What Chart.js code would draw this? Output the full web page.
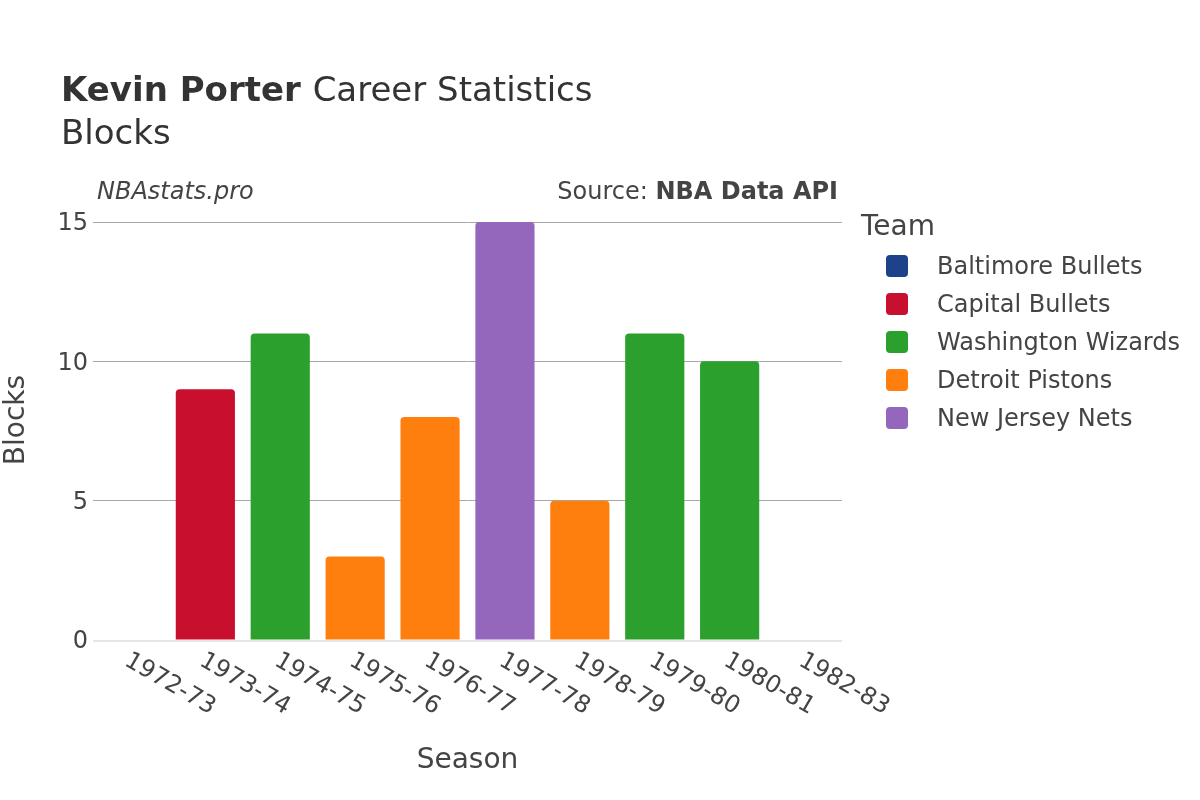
<!DOCTYPE html>
<html>
<head>
<meta charset="utf-8">
<script src="https://cdn.jsdelivr.net/npm/chart.js@4"></script>
<style>
  html, body { margin: 0; padding: 0; background: #fff; }
  #wrap { width: 1200px; height: 800px; }
</style>
</head>
<body>
<div id="wrap"><canvas id="blocksChart" width="1200" height="800"></canvas></div>
<script>
// --- Data ---
const seasons = ['1972-73', '1973-74', '1974-75', '1975-76', '1976-77', '1977-78', '1978-79', '1979-80', '1980-81', '1982-83'];
const seasonTeams = ['Baltimore Bullets', 'Capital Bullets', 'Washington Wizards', 'Detroit Pistons', 'Detroit Pistons',
    'New Jersey Nets', 'Detroit Pistons', 'Washington Wizards', 'Washington Wizards', 'Washington Wizards'];
const blocks = [0, 9, 11, 3, 8, 15, 5, 11, 10, 0];
const teams = ['Baltimore Bullets', 'Capital Bullets', 'Washington Wizards', 'Detroit Pistons', 'New Jersey Nets'];
const teamColors = ['#1d428a', '#c8102e', '#2ca02c', '#ff7f0e', '#9467bd'];
const yTicks = [0, 5, 10, 15];

const FONT = "'DejaVu Sans', sans-serif";
const textDark = '#333333';
const textMid = '#444444';

// one dataset per team, stacked so every bar stays centred on its season
const datasets = teams.map((team, t) => ({
    label: team,
    data: blocks.map((v, i) => seasonTeams[i] === team ? v : null),
    backgroundColor: teamColors[t],
    borderRadius: 4,
    borderSkipped: 'bottom',
    barPercentage: 0.79,
    categoryPercentage: 1.0
}));

// --- Custom drawing: titles, ticks, legend ---
const decorations = {
    id: 'decorations',
    beforeDatasetsDraw(chart) {
        const { ctx, chartArea } = chart;
        const y = chart.scales.y;
        // zero line
        ctx.save();
        ctx.strokeStyle = '#e6e6e6';
        ctx.lineWidth = 2;
        ctx.beginPath();
        ctx.moveTo(chartArea.left, y.getPixelForValue(0) + 1);
        ctx.lineTo(chartArea.right, y.getPixelForValue(0) + 1);
        ctx.stroke();
        ctx.restore();
    },
    afterDraw(chart) {
        const { ctx, chartArea } = chart;
        const x = chart.scales.x;
        const y = chart.scales.y;
        ctx.save();

        // title
        ctx.textBaseline = 'alphabetic';
        ctx.textAlign = 'left';
        ctx.fillStyle = textDark;
        ctx.font = `bold 34px ${FONT}`;
        ctx.fillText('Kevin Porter', 61, 101);
        const w = ctx.measureText('Kevin Porter ').width;
        ctx.font = `34px ${FONT}`;
        ctx.fillText('Career Statistics', 61 + w, 101);
        ctx.fillText('Blocks', 61, 144);

        // credits
        ctx.fillStyle = textMid;
        ctx.font = `italic 24px ${FONT}`;
        ctx.textBaseline = 'middle';
        ctx.fillText('NBAstats.pro', 97, 193);
        ctx.textAlign = 'right';
        ctx.font = `bold 24px ${FONT}`;
        const api = 'NBA Data API';
        ctx.fillText(api, 838, 193);
        const aw = ctx.measureText(api).width;
        ctx.font = `24px ${FONT}`;
        ctx.fillText('Source: ', 838 - aw, 193);

        // y ticks
        ctx.font = `24px ${FONT}`;
        ctx.fillStyle = textMid;
        ctx.textAlign = 'right';
        yTicks.forEach(v => ctx.fillText(String(v), 88, y.getPixelForValue(v) + 2));

        // x ticks, rotated 30deg clockwise, starting at the tick
        ctx.textAlign = 'left';
        ctx.textBaseline = 'middle';
        seasons.forEach((s, i) => {
            const px = x.getPixelForValue(i);
            ctx.save();
            ctx.translate(px - 4, chartArea.bottom + 19);
            ctx.rotate(Math.PI / 6);
            ctx.fillText(s, 0, 0);
            ctx.restore();
        });

        // axis titles
        ctx.font = `28px ${FONT}`;
        ctx.textAlign = 'center';
        ctx.fillText('Season', (chartArea.left + chartArea.right) / 2, 761);
        ctx.save();
        ctx.translate(17, (chartArea.top + chartArea.bottom) / 2);
        ctx.rotate(-Math.PI / 2);
        ctx.fillText('Blocks', 0, 0);
        ctx.restore();

        // legend
        ctx.textAlign = 'left';
        ctx.font = `28px ${FONT}`;
        ctx.fillText('Team', 861, 228);
        ctx.font = `24px ${FONT}`;
        teams.forEach((team, t) => {
            const cy = 266 + t * 38;
            ctx.fillStyle = teamColors[t];
            ctx.beginPath();
            ctx.roundRect(886, cy - 11, 22, 22, 4);
            ctx.fill();
            ctx.fillStyle = textMid;
            ctx.fillText(team, 937, cy + 2);
        });

        ctx.restore();
    }
};

new Chart(document.getElementById('blocksChart'), {
    type: 'bar',
    data: { labels: seasons, datasets: datasets },
    options: {
        responsive: false,
        animation: false,
        layout: { padding: { left: 93, right: 358, top: 200, bottom: 152 } },
        plugins: {
            legend: { display: false },
            tooltip: { enabled: false }
        },
        scales: {
            x: {
                stacked: true,
                grid: { display: false },
                border: { display: false },
                ticks: { display: false }
            },
            y: {
                stacked: true,
                min: 0,
                max: 15.79,
                afterBuildTicks: (scale) => { scale.ticks = yTicks.map(v => ({ value: v })); },
                grid: { color: '#a8a8a8', lineWidth: 1, drawTicks: false },
                border: { display: false },
                ticks: { display: false }
            }
        }
    },
    plugins: [decorations]
});
</script>
</body>
</html>
